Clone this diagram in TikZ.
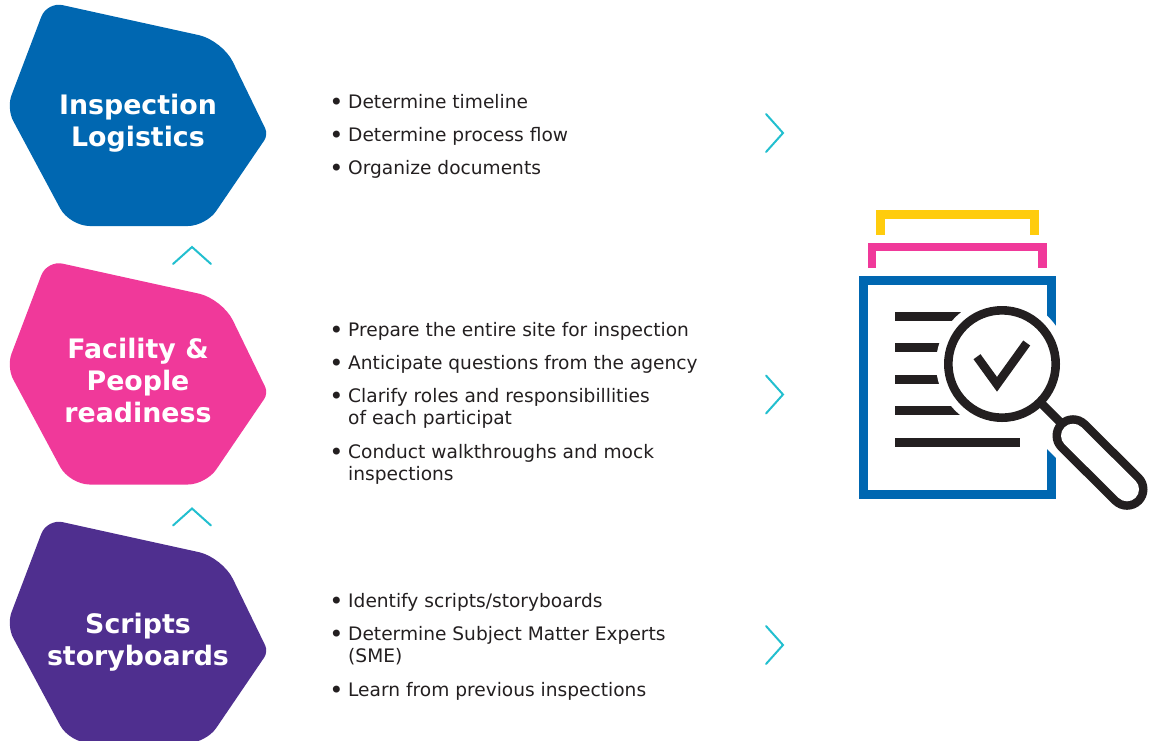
\documentclass[tikz,border=0pt]{standalone}
\usepackage{fontspec}
\setmainfont{DejaVu Sans}
\definecolor{cblue}{HTML}{0067B1}
\definecolor{cpink}{HTML}{F0399A}
\definecolor{cpurple}{HTML}{4F2F8F}
\definecolor{cyellow}{HTML}{FFCC0D}
\definecolor{cteal}{HTML}{22BFCF}
\definecolor{cblack}{HTML}{231F20}
\tikzset{
  title/.style={font=\bfseries\fontsize{26.8}{32}\selectfont,text=white,align=center,inner sep=0pt,anchor=base},
  item/.style={font=\fontsize{18.6}{22}\selectfont,text=cblack,align=left,inner sep=0pt,anchor=base west},
  bull/.style={font=\fontsize{24}{24}\selectfont,text=cblack,inner sep=0pt,anchor=base},
  chev/.style={draw=cteal,line width=2pt,line cap=round,line join=miter},
  sheet/.style={line width=8.6pt,line cap=butt,line join=miter},
  glass/.style={draw=cblack,line width=8.6pt}
}
\newcommand{\hexa}[2]{%
  \fill[#2,shift={(0,#1)}]
    (130,20) [rounded corners=24pt] -- (222.4,40.3)
    [rounded corners=7pt] -- (268.2,134.6)
    [rounded corners=18pt] -- (206,226)
    [rounded corners=20pt] -- (69.6,226)
    [rounded corners=14pt] -- (6.5,108.4)
    [rounded corners=16pt] -- (47,1.7)
    [sharp corners] -- (130,20) -- cycle;}
\newcommand{\chevr}[1]{\draw[chev,shift={(0,#1)}] (766,114) -- (783,133) -- (766,152);}
\newcommand{\chevu}[1]{\draw[chev,shift={(0,#1)}] (173,264) -- (192,247) -- (211,264);}
\begin{document}
\begin{tikzpicture}[x=1pt,y=-1pt]
\useasboundingbox (0,0) rectangle (1154,740);
\hexa{0}{cblue}
\hexa{258.5}{cpink}
\hexa{517}{cpurple}
\node[title] (t1a) at (138,114) {Inspection};
\node[title] (t1b) at (138,146) {Logistics};
\node[title] (t2a) at (138,358) {Facility \&};
\node[title] (t2b) at (138,390) {People};
\node[title] (t2c) at (138,422) {readiness};
\node[title] (t3a) at (138,633) {Scripts};
\node[title] (t3b) at (138,665) {storyboards};
\chevu{0}\chevu{261.5}
\chevr{0}\chevr{261.5}\chevr{512}
% lists
\node[bull] (b11) at (336.5,110.5) {•};
\node[item] (i11) at (348,108) {Determine timeline};
\node[bull] (b12) at (336.5,143.5) {•};
\node[item] (i12) at (348,141) {Determine process flow};
\node[bull] (b13) at (336.5,176.5) {•};
\node[item] (i13) at (348,174) {Organize documents};
\node[bull] (b21) at (336.5,338.5) {•};
\node[item] (i21) at (348,336) {Prepare the entire site for inspection};
\node[bull] (b22) at (336.5,371.5) {•};
\node[item] (i22) at (348,369) {Anticipate questions from the agency};
\node[bull] (b23) at (336.5,404.5) {•};
\node[item] (i23) at (348,402) {Clarify roles and responsibillities};
\node[item] (i23b) at (348,424) {of each participat};
\node[bull] (b24) at (336.5,460.5) {•};
\node[item] (i24) at (348,458) {Conduct walkthroughs and mock};
\node[item] (i24b) at (348,480) {inspections};
\node[bull] (b31) at (336.5,609.5) {•};
\node[item] (i31) at (348,607) {Identify scripts/storyboards};
\node[bull] (b32) at (336.5,642.5) {•};
\node[item] (i32) at (348,640) {Determine Subject Matter Experts};
\node[item] (i32b) at (348,662) {(SME)};
\node[bull] (b33) at (336.5,698.5) {•};
\node[item] (i33) at (348,696) {Learn from previous inspections};
% icon
\draw[sheet,cyellow] (880.3,234.5) -- (880.3,214.3) -- (1034.4,214.3) -- (1034.4,234.5);
\draw[sheet,cpink] (872,267.7) -- (872,247) -- (1042.7,247) -- (1042.7,267.7);
\draw[sheet,cblue] (863.3,280.3) rectangle (1051.4,494.7);
\foreach \yy in {316.3,347.7,379.3,410.7} \draw[cblack,line width=8.6pt] (895,\yy) -- (985,\yy);
\draw[cblack,line width=8.6pt] (895,442.3) -- (1020,442.3);
\fill[white] (1002,364) circle[radius=66];
\draw[white,line width=56pt] (1002,364) -- (1127,489.3);
\draw[glass] (1002,364) circle[radius=53.7];
\draw[cblack,line width=8.6pt] (1041,403) -- (1074,436);
\draw[cblack,line width=41pt,line cap=round] (1073,435.7) -- (1127,489.3);
\draw[white,line width=24pt,line cap=round] (1073,435.7) -- (1127,489.3);
\draw[cblack,line width=8.6pt,line join=miter] (977,356.7) -- (997,384.3) -- (1026.7,343);
\end{tikzpicture}
\end{document}
